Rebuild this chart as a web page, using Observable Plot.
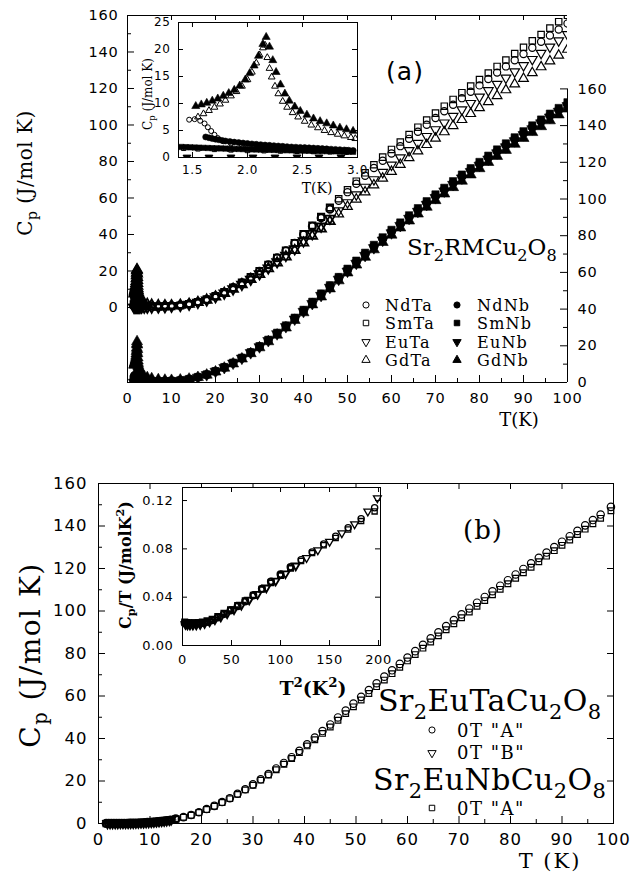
<!DOCTYPE html>
<html><head><meta charset="utf-8">
<script src="https://cdn.jsdelivr.net/npm/d3@7"></script>
<script src="https://cdn.jsdelivr.net/npm/@observablehq/plot@0.6"></script>
<style>
body{margin:0;background:#fff;}
#wrap{position:relative;width:642px;height:874px;overflow:hidden;background:#fff;}
#wrap svg{position:absolute;left:0;top:0;overflow:visible;}
</style></head><body><div id="wrap"></div>
<script>
// ---------------- Panel (a): Sr2RMCu2O8, T <= 3 K (inset + main) ----------------
const ndTaLowT  = [1.47,1.52,1.57,1.61,1.64,1.67,1.70,1.73,1.78,1.85,1.95,2.10,2.30,2.50,2.70,2.90];
const ndTaLowCp = [7.0,7.1,6.8,6.3,5.6,4.9,4.2,3.6,3.0,2.6,2.3,2.1,1.9,1.7,1.55,1.4];
const smTaLowT  = [1.42,1.55,1.70,1.85,2.00,2.15,2.30,2.45,2.60,2.75,2.90];
const smTaLowCp = [1.7,1.6,1.5,1.4,1.3,1.25,1.2,1.15,1.1,1.05,1.0];
const euTaLowT  = [1.45,1.65,1.85,2.05,2.25,2.45,2.65,2.85];
const euTaLowCp = [0.03,0.03,0.04,0.04,0.04,0.05,0.05,0.05];
const gdTaLowT  = [1.55,1.60,1.65,1.70,1.75,1.80,1.85,1.90,1.95,2.00,2.04,2.08,2.11,2.14,2.16,2.18,2.20,2.22,2.25,2.28,2.32,2.36,2.41,2.46,2.52,2.58,2.64,2.70,2.76,2.82,2.88,2.94,2.98];
const gdTaLowCp = [7.5,8.1,8.7,9.3,9.9,10.6,11.4,12.2,13.2,14.4,15.8,17.5,19.0,20.3,20.8,18.5,16.5,14.9,13.2,11.8,10.4,9.3,8.3,7.5,6.7,6.0,5.5,5.0,4.6,4.3,4.0,3.7,3.5];
const ndNbLowT  = [1.62,1.65,1.68,1.71,1.74,1.77,1.80,1.84,1.88,1.92,1.96,2.00,2.04,2.08,2.12,2.16,2.20,2.24,2.28,2.32,2.36,2.40,2.44,2.48,2.52,2.56,2.60,2.64,2.68,2.72,2.76,2.80,2.84,2.88,2.92,2.96];
const ndNbLowCp = [3.8,3.65,3.5,3.38,3.27,3.16,3.05,2.95,2.85,2.76,2.68,2.6,2.52,2.45,2.38,2.31,2.25,2.19,2.13,2.07,2.01,1.95,1.91,1.87,1.83,1.79,1.75,1.7,1.65,1.6,1.55,1.5,1.45,1.4,1.35,1.3];
const smNbLowT  = [1.40,1.44,1.48,1.52,1.56,1.60,1.64,1.68,1.72,1.76,1.80,1.84,1.88,1.92,1.96,2.00,2.04,2.08,2.12,2.16,2.20,2.24,2.28,2.32,2.36,2.40,2.44,2.48,2.52,2.56,2.60,2.64,2.68,2.72,2.76,2.80,2.84,2.88,2.92,2.96];
const smNbLowCp = [1.95,1.92,1.88,1.85,1.82,1.79,1.76,1.73,1.70,1.68,1.65,1.62,1.60,1.58,1.55,1.53,1.50,1.48,1.46,1.44,1.42,1.40,1.38,1.36,1.34,1.32,1.30,1.28,1.26,1.25,1.23,1.21,1.19,1.17,1.16,1.14,1.12,1.10,1.08,1.06];
const euNbLowT  = [1.45,1.65,1.85,2.05,2.25,2.45,2.65,2.85];
const euNbLowCp = [0.03,0.03,0.04,0.04,0.04,0.05,0.05,0.05];
const gdNbLowT  = [1.53,1.58,1.63,1.68,1.73,1.78,1.83,1.88,1.93,1.98,2.02,2.06,2.10,2.14,2.17,2.20,2.23,2.26,2.30,2.34,2.38,2.43,2.48,2.54,2.60,2.66,2.72,2.78,2.84,2.90,2.96];
const gdNbLowCp = [9.5,9.8,10.1,10.5,10.9,11.4,11.9,12.5,13.3,14.4,15.6,17.0,18.8,21.0,22.3,20.5,18.0,15.8,13.5,11.8,10.5,9.4,8.6,7.9,7.2,6.7,6.3,5.9,5.5,5.2,4.9];

// ---------------- Panel (a): T > 3 K (main panel) ----------------
const tHighA = [3.2,3.8,4.5,5.5,7,8.5,10,12,14,16,18,20,22,24,26,28,30,32,34,36,38,40,42,44,46,48,50,52,54,56,58,60,62,64,66,68,70,72,74,76,78,80,82,84,86,88,90,92,94,96,98,100];
// Ta compounds: left axis
const ndTaHigh = [1.3,1.15,1.0,0.9,0.85,0.9,1.0,1.3,2.0,3.0,4.4,6.3,8.4,10.9,13.6,16.6,19.9,23.4,27.2,31.1,35.2,40,44.5,49.1,53.8,58.5,63.2,67.8,72.2,76.4,80.4,84.4,88.4,92.4,96.3,100.1,103.8,107.5,111.1,114.7,118.2,121.7,125.2,128.7,132.1,135.5,138.9,142.3,145.6,149,152.3,155.6];
const smTaHigh = [0.9,0.75,0.6,0.5,0.5,0.6,0.8,1.1,1.9,3.0,4.4,6.3,8.4,10.9,13.6,16.6,19.9,23.4,27.2,31.2,35.3,40.2,44.9,49.7,54.7,59.6,64.5,69.2,73.8,78.2,82.4,86.6,90.7,94.8,98.8,102.7,106.5,110.3,114,117.7,121.3,124.9,128.5,132.1,135.6,139.1,142.6,146.1,149.6,153.1,156.6,160.1];
const euTaHigh = [0.06,0.07,0.085,0.12,0.2,0.35,0.6,1.0,1.7,2.7,4.0,5.8,7.8,10.1,12.6,15.4,18.4,21.6,25,28.5,32.1,36.4,40.4,44.5,48.8,53.1,57.5,61.8,66,70.1,74.1,78.1,82.1,86.1,90,93.8,97.5,101.2,104.8,108.4,111.9,115.4,118.9,122.4,125.8,129.2,132.6,136,139.4,142.8,146.2,149.6];
const gdTaHigh = [3.0,2.3,1.8,1.4,1.1,1.0,1.0,1.3,1.9,2.8,4.1,5.8,7.8,10.1,12.6,15.4,18.2,21.3,24.5,27.8,31.3,35.4,39.2,43.1,47.2,51.2,55.3,59.3,63.2,67.1,70.8,74.5,78.3,82,85.7,89.2,92.7,96.2,99.6,102.9,106.2,109.4,112.7,116,119.2,122.4,125.4,128.6,131.8,135,138.2,141.4];
// Nb compounds: right axis
const ndNbHigh = [1.2,1.0,0.9,0.8,0.75,0.8,0.9,1.2,1.8,2.9,4.3,6.1,8.2,10.6,13.3,16.3,19.5,22.9,26.7,30.7,34.9,39.2,43.6,48.1,52.6,57.1,61.5,65.8,70.1,74.3,78.4,82.4,86.4,90.3,94.1,97.9,101.6,105.2,108.8,112.3,115.8,119.2,122.6,126,129.3,132.6,135.9,139.1,142.3,145.5,148.6,151.7];
const smNbHigh = [1.0,0.9,0.8,0.7,0.65,0.7,0.85,1.2,1.9,3.0,4.4,6.2,8.4,10.8,13.5,16.5,19.8,23.3,27.1,31.1,35.3,39.6,44,48.5,53,57.5,62,66.4,70.7,75,79.1,83.2,87.2,91.1,95,98.8,102.5,106.1,109.7,113.3,116.8,120.2,123.6,127,130.3,133.6,136.9,140.1,143.3,146.5,149.6,152.7];
const euNbHigh = [0.06,0.07,0.085,0.12,0.2,0.35,0.6,1.0,1.7,2.8,4.2,6.0,8.1,10.5,13.2,16.2,19.4,22.8,26.5,30.4,34.5,38.7,43,47.4,51.8,56.2,60.6,64.9,69.2,73.4,77.5,81.5,85.5,89.4,93.2,97,100.7,104.3,107.9,111.4,114.9,118.3,121.7,125.1,128.4,131.7,135,138.2,141.4,144.6,147.7,150.8];
const gdNbHigh = [4.2,3.4,2.7,2.1,1.6,1.3,1.2,1.4,1.9,2.8,4.1,5.8,7.9,10.2,12.9,15.8,19,22.3,25.9,29.8,33.9,38.1,42.4,46.7,51.1,55.5,59.8,64.1,68.3,72.4,76.4,80.4,84.3,88.1,91.9,95.6,99.2,102.8,106.3,109.8,113.2,116.6,120,123.3,126.6,129.9,133.1,136.3,139.5,142.7,145.9,149.1];

// ---------------- Panel (b): Sr2EuTaCu2O8 / Sr2EuNbCu2O8 ----------------
// low T: Cp/T (J/mol K^2)
const tLowA   = [1.5,2,2.5,3,3.5,4,4.5,5,5.5,6,6.5,7,7.5,8,8.5,9,9.5,10,10.5,11,11.5,12,12.5,13,13.5,14];
const euTaA_CpT = [0.0185,0.0182,0.018,0.018,0.018,0.0182,0.0186,0.0195,0.021,0.0232,0.026,0.029,0.0325,0.0365,0.0415,0.047,0.053,0.059,0.065,0.071,0.0775,0.084,0.0905,0.0975,0.105,0.114];
const tLowB   = [1.75,2.25,2.75,3.25,3.75,4.25,4.75,5.25,5.75,6.25,6.75,7.25,7.75,8.25,8.75,9.25,9.75,10.25,10.75,11.25,11.75,12.25,12.75,13.25,13.75,14.1];
const euTaB_CpT = [0.0175,0.0172,0.017,0.017,0.0172,0.0176,0.0184,0.0197,0.0215,0.0238,0.0265,0.0298,0.0335,0.0378,0.0425,0.0478,0.0535,0.0595,0.066,0.0725,0.079,0.086,0.093,0.1005,0.111,0.122];
const euNbA_CpT = [0.0195,0.019,0.0188,0.0188,0.0188,0.019,0.0195,0.0204,0.0218,0.024,0.0266,0.0296,0.033,0.037,0.0415,0.0465,0.052,0.058,0.064,0.07,0.0765,0.083,0.089,0.096,0.103,0.111];
// high T: Cp (J/mol K)
const tHighB = [15,16.5,18,19.5,21,22.5,24,25.5,27,28.5,30,31.5,33,34.5,36,37.5,39,40.5,42,43.5,45,46.5,48,49.5,51,52.5,54,55.5,57,58.5,60,61.5,63,64.5,66,67.5,69,70.5,72,73.5,75,76.5,78,79.5,81,82.5,84,85.5,87,88.5,90,91.5,93,94.5,96,97.5,99.5];
const euTaA_Cp = [2.15,3.0,4.0,5.3,6.8,8.3,10.1,11.9,14.0,16.1,18.4,20.8,23.3,25.9,28.5,31.2,34.2,37.3,40.4,43.5,46.6,49.9,53.1,56.4,59.6,62.8,66,69.1,72.1,75.1,78.1,81.1,84.1,87.1,90,92.9,95.7,98.4,101.2,103.9,106.6,109.3,111.9,114.5,117.2,119.8,122.4,125,127.5,130.1,132.6,135.2,137.7,140.3,142.8,145.4,149];
const euNbA_Cp = [2.1,2.9,3.9,5.2,6.6,8.1,9.9,11.7,13.7,15.8,18.0,20.4,22.8,25.3,27.9,30.6,33.4,36.5,39.4,42.4,45.4,48.6,51.7,54.9,58.1,61.2,64.4,67.5,70.5,73.5,76.5,79.5,82.5,85.4,88.3,91.2,94,96.8,99.5,102.2,104.9,107.6,110.2,112.8,115.4,118,120.6,123.2,125.8,128.4,130.9,133.4,136,138.5,141,143.6,147.2];

// tick labels
const ticksT = [0,10,20,30,40,50,60,70,80,90,100];
const ticksCp = [0,20,40,60,80,100,120,140,160];
const ticksInsetA_T = [1.5,2.0,2.5,3.0];
const ticksInsetA_Cp = [0,5,10,15,20,25];
const ticksInsetB_T2 = [0,50,100,150,200];
const ticksInsetB_CpT = [0,0.04,0.08,0.12];

// ---------------- helpers ----------------
const sqrt3 = Math.sqrt(3);
const triangleDown = {draw(ctx, size) {
  const y = -Math.sqrt(size / (sqrt3 * 3));
  ctx.moveTo(0, -y * 2); ctx.lineTo(-sqrt3 * y, y); ctx.lineTo(sqrt3 * y, y); ctx.closePath();
}};
const rows = (T, V) => T.map((t, i) => ({T: t, Cp: V[i]}));
const seriesA = [
  {name:"NdTa", axis:"L", symbol:"circle",   filled:false, low:rows(ndTaLowT, ndTaLowCp), high:rows(tHighA, ndTaHigh)},
  {name:"SmTa", axis:"L", symbol:"square",   filled:false, low:rows(smTaLowT, smTaLowCp), high:rows(tHighA, smTaHigh)},
  {name:"EuTa", axis:"L", symbol:triangleDown, filled:false, low:rows(euTaLowT, euTaLowCp), high:rows(tHighA, euTaHigh)},
  {name:"GdTa", axis:"L", symbol:"triangle", filled:false, low:rows(gdTaLowT, gdTaLowCp), high:rows(tHighA, gdTaHigh)},
  {name:"NdNb", axis:"R", symbol:"circle",   filled:true,  low:rows(ndNbLowT, ndNbLowCp), high:rows(tHighA, ndNbHigh)},
  {name:"SmNb", axis:"R", symbol:"square",   filled:true,  low:rows(smNbLowT, smNbLowCp), high:rows(tHighA, smNbHigh)},
  {name:"EuNb", axis:"R", symbol:triangleDown, filled:true,  low:rows(euNbLowT, euNbLowCp), high:rows(tHighA, euNbHigh)},
  {name:"GdNb", axis:"R", symbol:"triangle", filled:true,  low:rows(gdNbLowT, gdNbLowCp), high:rows(tHighA, gdNbHigh)}
];
// heavier outlines where the scanned markers pile up (dense low-T part)
const heavyBelow = (limit, heavy, light) => d => d.T < limit ? heavy : light;
function dotsFor(s, data, r, sw) {
  return Plot.dot(data, {x:"T", y:"Cp", symbol:s.symbol, r, clip: true,
    fill: s.filled ? "black" : "none", stroke:"black", strokeWidth: s.filled ? 0.6 : sw});
}
const wrap = document.getElementById("wrap");
function add(svg){ wrap.appendChild(svg); }
const W = 642;

// ---------------- Panel (a) main, Ta (left axis) ----------------
{
  const mt = 15, mb = 58, ml = 127, mr = 75, H = 440;
  const fw = W - ml - mr, fh = H - mt - mb;
  const yDom = [-41.1, 160];
  add(Plot.plot({
    width: W, height: H, marginTop: mt, marginBottom: mb, marginLeft: ml, marginRight: mr,
    x: {domain: [0, 100], label: null}, y: {domain: yDom, label: null},
    style: {background: "transparent", fontFamily: "DejaVu Sans", fontSize: "14.5px", letterSpacing: "0.8px", color: "black"},
    marks: [
      Plot.ruleY([yDom[0]], {stroke: "black"}),
      Plot.ruleY([yDom[1]], {stroke: "black"}),
      Plot.ruleX([0], {stroke: "black"}),
      Plot.tickX(ticksT, {insetTop: fh - 7}),
      Plot.tickX(d3.range(5, 100, 10), {insetTop: fh - 4}),
      Plot.tickX(ticksT.slice(1, -1), {insetBottom: fh - 5}),
      Plot.tickY(ticksCp, {insetRight: fw - 7}),
      Plot.tickY(d3.range(10, 160, 20), {insetRight: fw - 4}),
      Plot.axisX({ticks: ticksT, tickSize: 0, tickPadding: 10, label: null}),
      Plot.axisY({ticks: ticksCp, tickSize: 0, tickPadding: 9, label: null}),
      ...seriesA.filter(s => s.axis === "L").map(s => dotsFor(s, s.low.concat(s.high), 3.6, heavyBelow(48, 1.8, 1.2)))
    ]
  }));
}
// ---------------- Panel (a) main, Nb (right axis) ----------------
{
  const mt = 15, mb = 58, ml = 127, mr = 75, H = 440;
  const fw = W - ml - mr;
  add(Plot.plot({
    width: W, height: H, marginTop: mt, marginBottom: mb, marginLeft: ml, marginRight: mr,
    x: {domain: [0, 100], axis: null, label: null}, y: {domain: [0, 200], label: null},
    style: {background: "transparent", fontFamily: "DejaVu Sans", fontSize: "14.5px", letterSpacing: "0.8px", color: "black"},
    marks: [
      Plot.ruleX([100], {y1: 0, y2: 160, stroke: "black"}),
      Plot.tickY(ticksCp, {insetLeft: fw - 7}),
      Plot.tickY(d3.range(10, 160, 20), {insetLeft: fw - 4}),
      Plot.axisY({anchor: "right", ticks: ticksCp, tickSize: 0, tickPadding: 10, label: null}),
      ...seriesA.filter(s => s.axis === "R").map(s => dotsFor(s, s.low.concat(s.high), 4.1, 1))
    ]
  }));
}
// ---------------- Panel (a) inset ----------------
{
  const mt = 22, mb = 43, ml = 178, mr = 285, H = 200;
  const fw = W - ml - mr, fh = H - mt - mb;
  add(Plot.plot({
    width: W, height: H, marginTop: mt, marginBottom: mb, marginLeft: ml, marginRight: mr,
    x: {domain: [1.373, 3.0], label: null}, y: {domain: [0, 25], label: null},
    style: {background: "transparent", fontFamily: "DejaVu Sans", fontSize: "12px", letterSpacing: "0.6px", color: "black"},
    marks: [
      Plot.frame({fill: "white", stroke: "black"}),
      Plot.tickX(ticksInsetA_T, {insetTop: fh - 5}),
      Plot.tickX(ticksInsetA_T, {insetBottom: fh - 5}),
      Plot.tickY(ticksInsetA_Cp, {insetRight: fw - 5}),
      Plot.tickY(ticksInsetA_Cp, {insetLeft: fw - 5}),
      Plot.axisX({ticks: ticksInsetA_T, tickFormat: d3.format(".1f"), tickSize: 0, tickPadding: 8, label: null}),
      Plot.axisY({ticks: ticksInsetA_Cp, tickSize: 0, tickPadding: 8, label: null}),
      ...seriesA.map(s => dotsFor(s, s.low, s.filled ? 3.0 : 2.5, 1)),
      Plot.frame({stroke: "black"})
    ]
  }));
}
// ---------------- Panel (b) main ----------------
const lowA = tLowA.map((t, i) => ({T: t, Cp: t * euTaA_CpT[i], T2: t * t, CpT: euTaA_CpT[i]}));
const lowB = tLowB.map((t, i) => ({T: t, Cp: t * euTaB_CpT[i], T2: t * t, CpT: euTaB_CpT[i]}));
const lowNb = tLowA.map((t, i) => ({T: t, Cp: t * euNbA_CpT[i], T2: t * t, CpT: euNbA_CpT[i]}));
const mainA = lowA.concat(rows(tHighB, euTaA_Cp));
const mainNb = lowNb.concat(rows(tHighB, euNbA_Cp));
{
  const mt = 483, mb = 51, ml = 98, mr = 29, H = 874;
  const fw = W - ml - mr, fh = H - mt - mb;
  const swB = heavyBelow(16, 1.8, 1.2);
  add(Plot.plot({
    width: W, height: H, marginTop: mt, marginBottom: mb, marginLeft: ml, marginRight: mr,
    x: {domain: [0, 100], label: null}, y: {domain: [0, 160], label: null},
    style: {background: "transparent", fontFamily: "DejaVu Sans", fontSize: "16.5px", letterSpacing: "1px", color: "black"},
    marks: [
      Plot.frame({stroke: "black"}),
      Plot.tickX(ticksT, {insetTop: fh - 7}),
      Plot.tickX(d3.range(5, 100, 10), {insetTop: fh - 4}),
      Plot.tickX(ticksT.slice(1, -1), {insetBottom: fh - 6}),
      Plot.tickY(ticksCp, {insetRight: fw - 7}),
      Plot.tickY(d3.range(10, 160, 20), {insetRight: fw - 4}),
      Plot.tickY(ticksCp.slice(1, -1), {insetLeft: fw - 6}),
      Plot.axisX({ticks: ticksT, tickSize: 0, tickPadding: 10, label: null}),
      Plot.axisY({ticks: ticksCp, tickSize: 0, tickPadding: 11, label: null}),
      Plot.dot(mainNb, {x: "T", y: "Cp", symbol: "square", r: 3.2, fill: "none", stroke: "black", strokeWidth: swB}),
      Plot.dot(lowB, {x: "T", y: "Cp", symbol: triangleDown, r: 3.2, fill: "none", stroke: "black", strokeWidth: swB}),
      Plot.dot(mainA, {x: "T", y: "Cp", symbol: "circle", r: 3.7, fill: "none", stroke: "black", strokeWidth: swB})
    ]
  }));
}
// ---------------- Panel (b) inset ----------------
{
  const mt = 487, mb = 229, ml = 182, mr = 262, H = 874;
  const fw = W - ml - mr, fh = H - mt - mb;
  const swI = heavyBelow(11, 1.9, 1.3);
  add(Plot.plot({
    width: W, height: H, marginTop: mt, marginBottom: mb, marginLeft: ml, marginRight: mr,
    x: {domain: [0, 202], label: null}, y: {domain: [0, 0.1308], label: null},
    style: {background: "transparent", fontFamily: "DejaVu Sans", fontSize: "13px", letterSpacing: "0.6px", color: "black"},
    marks: [
      Plot.frame({fill: "white", stroke: "black"}),
      Plot.tickX(ticksInsetB_T2, {insetTop: fh - 5}),
      Plot.tickX(ticksInsetB_T2, {insetBottom: fh - 5}),
      Plot.tickY(ticksInsetB_CpT, {insetRight: fw - 5}),
      Plot.tickY(ticksInsetB_CpT, {insetLeft: fw - 5}),
      Plot.axisX({ticks: ticksInsetB_T2, tickSize: 0, tickPadding: 9, label: null}),
      Plot.axisY({ticks: ticksInsetB_CpT, tickFormat: d3.format(".2f"), tickSize: 0, tickPadding: 9, label: null}),
      Plot.dot(lowNb, {x: "T2", y: "CpT", symbol: "square", r: 2.9, fill: "none", stroke: "black", strokeWidth: swI}),
      Plot.dot(lowB, {x: "T2", y: "CpT", symbol: triangleDown, r: 2.9, fill: "none", stroke: "black", strokeWidth: swI}),
      Plot.dot(lowA, {x: "T2", y: "CpT", symbol: "circle", r: 3.1, fill: "none", stroke: "black", strokeWidth: swI}),
      Plot.frame({stroke: "black"})
    ]
  }));
}

// ---------------- Text annotations (SVG overlay) ----------------
const ann = d3.create("svg").attr("width", W).attr("height", 874).attr("viewBox", `0 0 ${W} 874`);
function txt(parts, x, y, o = {}) {
  const size = o.size || 16;
  const t = ann.append("text")
    .attr("transform", `translate(${x},${y}) rotate(${o.rotate || 0})`)
    .attr("text-anchor", o.anchor || "start")
    .attr("font-family", o.family || "DejaVu Serif")
    .attr("font-size", size)
    .attr("font-weight", o.weight || "normal")
    .attr("letter-spacing", o.spacing || 0)
    .attr("fill", "black");
  let shift = 0;
  for (const p of parts) {
    const [s, kind] = Array.isArray(p) ? p : [p];
    const target = kind === "sub" ? 0.25 * size : kind === "sup" ? -0.42 * size : 0;
    const ts = t.append("tspan").attr("dy", target - shift).text(s);
    if (kind) ts.attr("font-size", size * 0.7);
    shift = target;
  }
}
function sym(type, x, y, filled, area = 34) {
  ann.append("path").attr("d", d3.symbol(type, area)()).attr("transform", `translate(${x},${y})`)
    .attr("fill", filled ? "black" : "none").attr("stroke", "black").attr("stroke-width", 1);
}
// panel (a)
txt(["C", ["p", "sub"], " (J/mol K)"], 32, 173, {size: 20, rotate: -90, anchor: "middle", spacing: 0.5});
txt(["(a)"], 405, 80, {size: 25, family: "DejaVu Sans", anchor: "middle", spacing: 1});
txt(["Sr", ["2", "sub"], "RMCu", ["2", "sub"], "O", ["8", "sub"]], 407, 255, {size: 23});
txt(["T(K)"], 519, 426, {size: 18, anchor: "middle"});
const legA = [["NdTa", d3.symbolCircle, "NdNb"], ["SmTa", d3.symbolSquare, "SmNb"], ["EuTa", triangleDown, "EuNb"], ["GdTa", d3.symbolTriangle, "GdNb"]];
const legAy = [305, 323, 342, 360];
legA.forEach((r, i) => {
  sym(r[1], 366, legAy[i], false, 30);
  txt([r[0]], 385, legAy[i] + 6, {size: 16, spacing: 1.2});
  sym(r[1], 457, legAy[i], true, 30);
  txt([r[2]], 477, legAy[i] + 6, {size: 16, spacing: 1.2});
});
txt(["C", ["p", "sub"], " (J/mol K)"], 152, 94, {size: 12, rotate: -90, anchor: "middle"});
txt(["T(K)"], 317, 193, {size: 14, anchor: "middle"});
// panel (b)
txt(["C", ["p", "sub"], " (J/mol K)"], 40, 655, {size: 28, rotate: -90, anchor: "middle", spacing: 1.5});
txt(["(b)"], 483, 539, {size: 26, anchor: "middle", spacing: 1});
txt(["Sr", ["2", "sub"], "EuTaCu", ["2", "sub"], "O", ["8", "sub"]], 378, 711, {size: 30, spacing: 0.4});
sym(d3.symbolCircle, 432, 730, false, 30);
txt(["0T \"A\""], 457, 737, {size: 18, spacing: 1.5});
sym(triangleDown, 432, 753, false, 30);
txt(["0T \"B\""], 457, 759, {size: 18, spacing: 1.5});
txt(["Sr", ["2", "sub"], "EuNbCu", ["2", "sub"], "O", ["8", "sub"]], 373, 790, {size: 30, spacing: 0.4});
sym(d3.symbolSquare, 432, 808, false, 30);
txt(["0T \"A\""], 457, 815, {size: 18, spacing: 1.5});
txt(["T (K)"], 550, 868, {size: 21, anchor: "middle", spacing: 2});
txt(["C", ["p", "sub"], "/T (J/molK", ["2", "sup"], ")"], 131, 565, {size: 16, rotate: -90, anchor: "middle", weight: "bold"});
txt(["T", ["2", "sup"], "(K", ["2", "sup"], ")"], 313, 695, {size: 19, anchor: "middle", weight: "bold"});
add(ann.node());
</script></body></html>
